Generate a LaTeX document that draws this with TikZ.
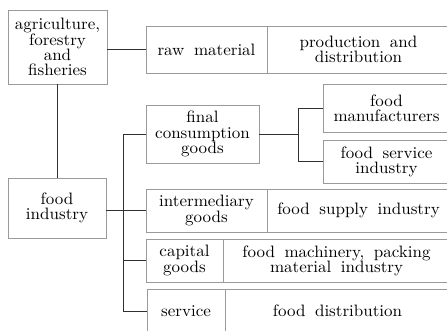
\documentclass[tikz,border=0pt]{standalone}
\usepackage{fontspec}
\newfontfamily\lmten{lmroman10-regular.otf}[FakeStretch=1.03]
\definecolor{boxgray}{HTML}{9A9A9A}
\definecolor{linedark}{HTML}{303030}
\newcommand{\boxfnt}{\lmten\fontsize{16.5}{15.2}\selectfont\spaceskip=0.58em plus 0.1em\relax}
\begin{document}
\begin{tikzpicture}[x=1pt,y=-1pt,
  box/.style={draw=boxgray, line width=0.9pt, inner sep=0pt, align=center,
    font=\boxfnt, text=black},
  conn/.style={draw=linedark, line width=0.9pt}]
\useasboundingbox (0,0) rectangle (447,330);
% left column
\node[box, minimum width=99, minimum height=74] (agri) at (57.5,47) {agriculture,\\forestry\\and\\fisheries};
\node[box, minimum width=98, minimum height=60] (foodind) at (57,208) {food\\industry};
% raw material row
\node[box, minimum width=121, minimum height=47] (raw) at (206.5,49.5) {raw material};
\node[box, minimum width=183, minimum height=47] (prod) at (358.5,49.5) {production and\\distribution};
% final consumption
\node[box, minimum width=113, minimum height=58] (finalc) at (202.5,134) {final\\consumption\\goods};
\node[box, minimum width=127, minimum height=48] (foodman) at (386.5,108) {food\\manufacturers};
\node[box, minimum width=127, minimum height=43] (foodserv) at (386.5,161.5) {food service\\industry};
% intermediary
\node[box, minimum width=121, minimum height=43] (interm) at (206.5,210.5) {intermediary\\goods};
\node[box, minimum width=183, minimum height=43] (supply) at (358.5,210.5) {food supply industry};
% capital
\node[box, minimum width=77, minimum height=43] (capital) at (184.5,260.5) {capital\\goods};
\node[box, minimum width=227, minimum height=43] (machin) at (336.5,260.5) {food machinery, packing\\material industry};
% service
\node[box, minimum width=78, minimum height=44] (service) at (186,311) {service};
\node[box, minimum width=225, minimum height=44] (distrib) at (337.5,311) {food distribution};
% trunk coordinates
\coordinate (trTop) at (123,134);
\coordinate (trBot) at (123,311);
\coordinate (brX) at (298,134);
% connectors
\draw[conn] (agri.east |- raw.west) -- (raw.west);
\draw[conn] (agri.south -| foodind.north) -- (foodind.north);
\draw[conn] (foodind.east |- interm.west) -- (interm.west);
\draw[conn] (trTop |- finalc.west) -- (trBot |- service.west);
\draw[conn] (trTop |- finalc.west) -- (finalc.west);
\draw[conn] (trTop |- capital.west) -- (capital.west);
\draw[conn] (trBot |- service.west) -- (service.west);
\draw[conn] (finalc.east) -- (brX |- finalc.east);
\draw[conn] (brX |- foodman.west) -- (brX |- foodserv.west);
\draw[conn] (brX |- foodman.west) -- (foodman.west);
\draw[conn] (brX |- foodserv.west) -- (foodserv.west);
\end{tikzpicture}
\end{document}
